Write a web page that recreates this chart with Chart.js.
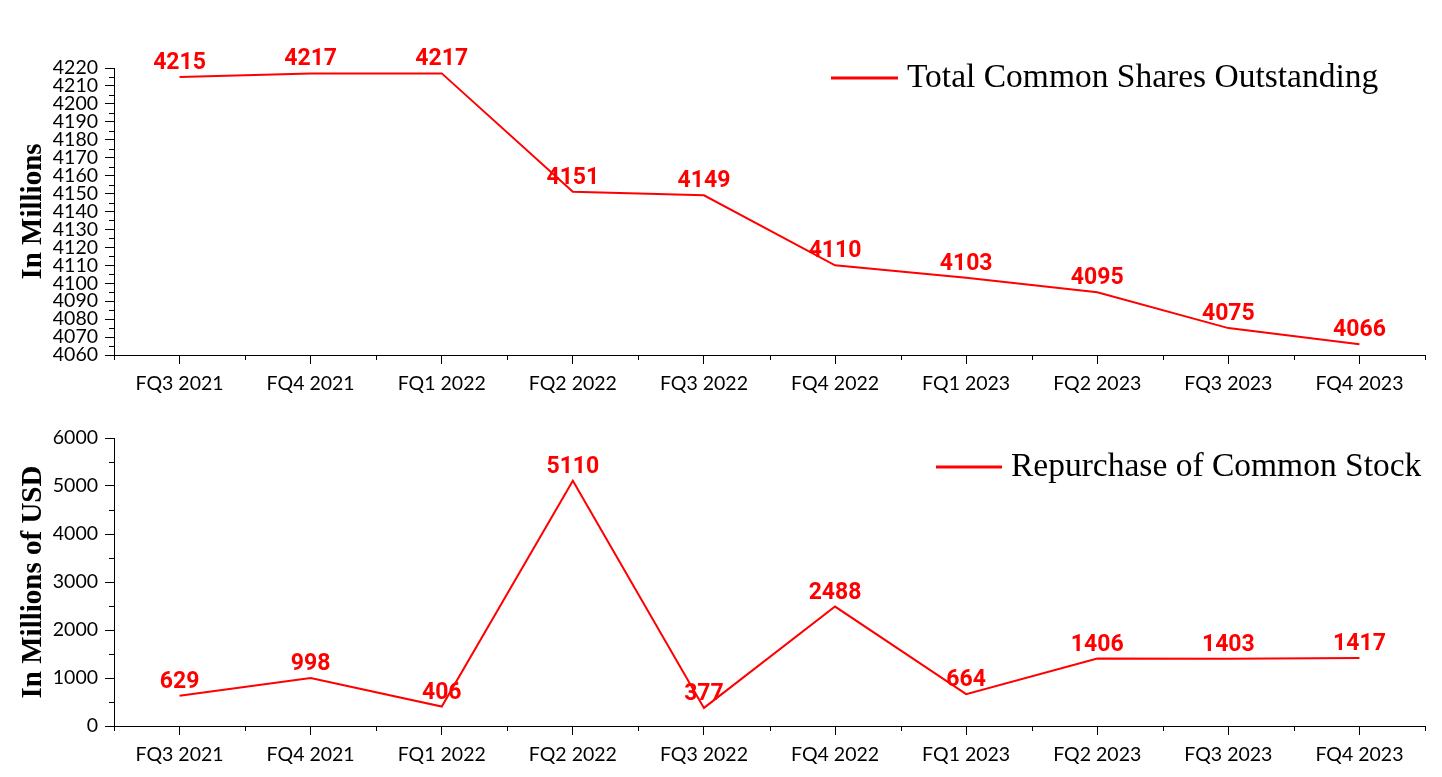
<!DOCTYPE html>
<html><head><meta charset="utf-8">
<script src="https://cdn.jsdelivr.net/npm/chart.js@4.4.1/dist/chart.umd.min.js"></script>
<style>
html,body{margin:0;padding:0;background:#fff;}
#w{position:relative;width:1442px;height:777px;background:#fff;}
canvas{position:absolute;left:0;}
</style></head><body>
<div id="w">
<canvas id="c1" width="1442" height="400" style="top:0"></canvas>
<canvas id="c2" width="1442" height="377" style="top:400px"></canvas>
</div>
<script>
// ---- data ----
const quarters = ["FQ3 2021","FQ4 2021","FQ1 2022","FQ2 2022","FQ3 2022","FQ4 2022","FQ1 2023","FQ2 2023","FQ3 2023","FQ4 2023"];
const sharesOutstanding = [4215,4217,4217,4151,4149,4110,4103,4095,4075,4066];
const repurchases = [629,998,406,5110,377,2488,664,1406,1403,1417];
const sharesAxis = {min:4060, max:4220, step:10, minor:5};
const repAxis = {min:0, max:6000, step:1000, minor:500};
const sharesLabel = "Total Common Shares Outstanding";
const repLabel = "Repurchase of Common Stock";
const sharesTitle = "In Millions";
const repTitle = "In Millions of USD";

const RED = '#ff0000';
const tickFont = {family:'Lato', size:19.5};

const extras = {
  id:'extras',
  afterDatasetsDraw(chart, args, opts){
    const ctx = chart.ctx;
    const meta = chart.getDatasetMeta(0);
    const data = chart.data.datasets[0].data;
    ctx.save();
    ctx.fillStyle = RED;
    ctx.font = 'bold 23px Roboto';
    ctx.textAlign = 'center';
    ctx.textBaseline = 'alphabetic';
    meta.data.forEach((p,i)=>{ ctx.fillText(String(data[i]), p.x, p.y - 8); });
    ctx.restore();
  },
  afterDraw(chart, args, opts){
    const ctx = chart.ctx;
    const xs = chart.scales.x, ys = chart.scales.y;
    ctx.save();
    ctx.strokeStyle = '#000';
    ctx.lineWidth = 1;
    ctx.beginPath();
    const ax = opts.axis;
    for (let v = ax.min + ax.minor; v < ax.max; v += ax.step) {
      const y = Math.round(ys.getPixelForValue(v)) + 0.5;
      ctx.moveTo(ys.right - 5, y); ctx.lineTo(ys.right, y);
    }
    const n = chart.data.labels.length;
    const bounds = [xs.left];
    for (let i = 1; i < n; i++) bounds.push((xs.getPixelForValue(i-1) + xs.getPixelForValue(i)) / 2);
    bounds.push(xs.right);
    bounds.forEach(b=>{ const x = Math.round(b) + 0.5; ctx.moveTo(x, xs.top); ctx.lineTo(x, xs.top + 5); });
    ctx.stroke();
    const L = opts.legend;
    ctx.strokeStyle = RED; ctx.lineWidth = 3;
    ctx.beginPath(); ctx.moveTo(L.x1, L.y); ctx.lineTo(L.x2, L.y); ctx.stroke();
    ctx.fillStyle = '#000';
    ctx.font = '33.5px "Liberation Serif"';
    ctx.textAlign = 'left'; ctx.textBaseline = 'middle';
    ctx.fillText(chart.data.datasets[0].label, L.x2 + 9, L.y);
    ctx.restore();
  }
};

function makeChart(id, values, label, axis, title, canvasH, top, bottom, legend){
  return new Chart(document.getElementById(id), {
    type:'line',
    data:{ labels: quarters, datasets:[{ label, data: values, borderColor: RED, borderWidth: 2, pointRadius: 0, pointHoverRadius: 0, tension: 0, fill: false }]},
    options:{
      responsive:false, animation:false, devicePixelRatio:1,
      layout:{ padding:{ top: top, right: 17, left: 0, bottom: 0 } },
      plugins:{ legend:{display:false}, tooltip:{enabled:false}, extras:{ axis, legend } },
      scales:{
        x:{
          type:'category', offset:true,
          grid:{ display:true, drawOnChartArea:false, drawTicks:true, tickLength:9, color:'#000', offset:false },
          border:{ display:true, color:'#000', width:1 },
          ticks:{ color:'#000', font: tickFont, maxRotation:0, autoSkip:false, padding:8 },
          afterFit: s => { s.height = canvasH - bottom; }
        },
        y:{
          min: axis.min, max: axis.max,
          grid:{ display:true, drawOnChartArea:false, drawTicks:true, tickLength:9, color:'#000' },
          border:{ display:true, color:'#000', width:1 },
          ticks:{ color:'#000', font: tickFont, stepSize: axis.step, autoSkip:false, padding:7, callback: v => String(v) },
          title:{ display:true, text: title, color:'#000', font:{ family:'Liberation Serif', size:29, weight:'bold' }, padding:{top:16, bottom:0} },
          afterFit: s => { s.width = 114; }
        }
      }
    },
    plugins:[extras]
  });
}

makeChart('c1', sharesOutstanding, sharesLabel, sharesAxis, sharesTitle, 400, 68, 355, {x1:831, x2:898, y:78});
makeChart('c2', repurchases, repLabel, repAxis, repTitle, 377, 38, 326, {x1:936, x2:1002, y:67});
</script>
</body></html>
